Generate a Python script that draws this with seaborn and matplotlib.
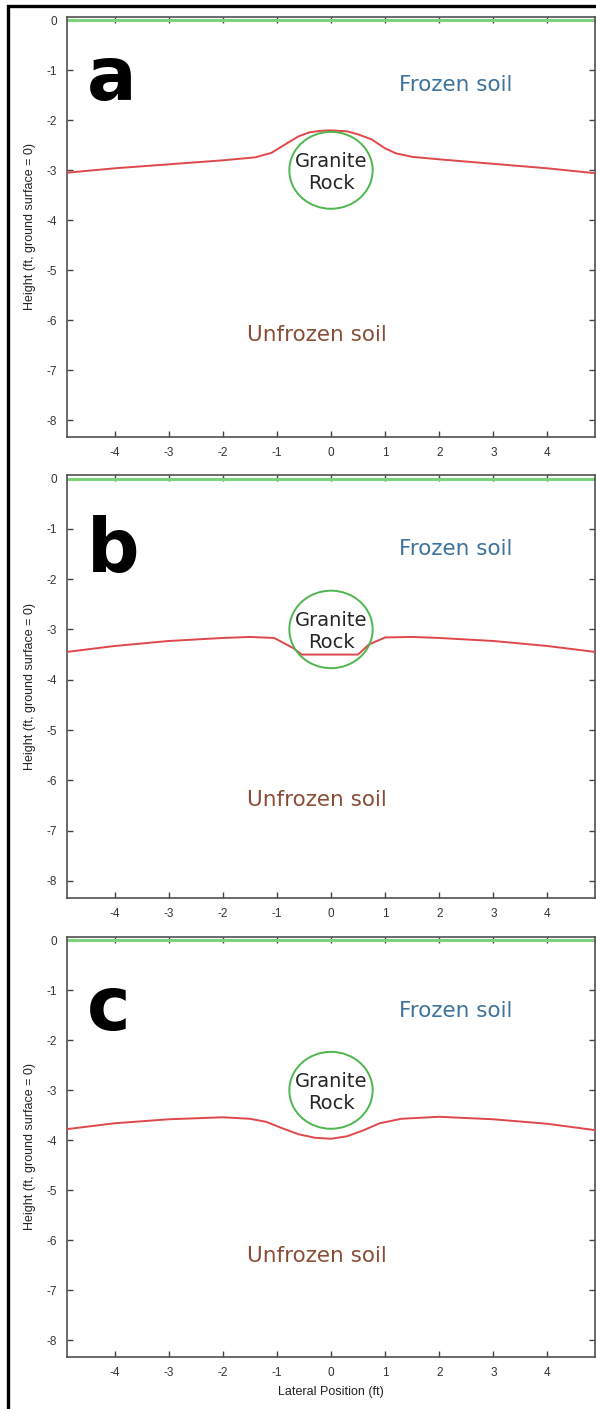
import matplotlib
matplotlib.use("Agg")
import matplotlib.pyplot as plt
from matplotlib.patches import Circle, Rectangle
import seaborn as sns
import pandas as pd

# Axis ticks
x_ticks = [-4, -3, -2, -1, 0, 1, 2, 3, 4]
y_ticks = [0, -1, -2, -3, -4, -5, -6, -7, -8]

# Freezing-front profiles (lateral position ft, height ft)
front_x_a = [-4.9, -4.0, -3.0, -2.0, -1.4, -1.1, -0.8, -0.6, -0.4, -0.2, 0.0,
             0.3, 0.5, 0.75, 1.0, 1.2, 1.5, 2.0, 3.0, 4.0, 4.9]
front_y_a = [-3.05, -2.96, -2.88, -2.80, -2.74, -2.65, -2.45, -2.32, -2.24, -2.21, -2.20,
             -2.22, -2.28, -2.38, -2.56, -2.66, -2.73, -2.78, -2.87, -2.96, -3.06]

front_x_b = [-4.9, -4.0, -3.0, -2.0, -1.5, -1.05, -0.7, -0.54, 0.0, 0.5, 0.7,
             1.0, 1.5, 2.0, 3.0, 4.0, 4.9]
front_y_b = [-3.45, -3.33, -3.23, -3.17, -3.15, -3.17, -3.37, -3.50, -3.50, -3.50, -3.30,
             -3.16, -3.15, -3.17, -3.23, -3.33, -3.45]

front_x_c = [-4.9, -4.0, -3.0, -2.0, -1.5, -1.2, -0.9, -0.6, -0.3, 0.0, 0.3,
             0.6, 0.9, 1.3, 2.0, 3.0, 4.0, 4.9]
front_y_c = [-3.78, -3.66, -3.58, -3.54, -3.57, -3.63, -3.76, -3.88, -3.95, -3.97, -3.92,
             -3.80, -3.66, -3.57, -3.53, -3.58, -3.67, -3.80]

panel_labels = ["a", "b", "c"]
panel_label_y = [-1.6, -1.85, -1.8]
frozen_y = [-1.3, -1.4, -1.42]
unfrozen_y = [-6.3, -6.39, -6.31]

rock_center = (0.0, -3.0)
rock_radius = 0.77

sns.set_style("white")
plt.rcParams["font.family"] = ["Liberation Sans", "DejaVu Sans"]
plt.rcParams["axes.unicode_minus"] = False

W, H = 596, 1409
fig = plt.figure(figsize=(W / 100, H / 100), dpi=100)

# axes boxes in pixels: (top, bottom)
boxes = [(17, 437), (475, 898), (937, 1357)]
left_px, right_px = 67, 595

profiles = [(front_x_a, front_y_a), (front_x_b, front_y_b), (front_x_c, front_y_c)]

for i, ((top, bot), (fx, fy)) in enumerate(zip(boxes, profiles)):
    ax = fig.add_axes([left_px / W, 1 - bot / H, (right_px - left_px) / W, (bot - top) / H])
    ax.set_xlim(-4.88, 4.88)
    ax.set_ylim(-8.34, 0.07)

    # ground surface
    ax.axhline(0, color="#7cd37c", lw=2.2, zorder=2)

    # freezing front
    df = pd.DataFrame({"x": fx, "y": fy})
    sns.lineplot(data=df, x="x", y="y", sort=False, estimator=None,
                 color="#e0474c", lw=1.4, ax=ax, zorder=3)

    # granite rock
    ax.add_patch(Circle(rock_center, rock_radius, fill=False, ec="#4fb64f", lw=1.4, zorder=4))
    ax.text(0.0, -3.05, "Granite\nRock", ha="center", va="center", fontsize=14,
            family="DejaVu Sans", color="#262626", linespacing=1.2, zorder=5)

    ax.text(2.3, frozen_y[i], "Frozen soil", ha="center", va="center", fontsize=15.5,
            family="DejaVu Sans", color="#3f739c")
    ax.text(-0.26, unfrozen_y[i], "Unfrozen soil", ha="center", va="center", fontsize=15.5,
            family="DejaVu Sans", color="#8a4e36")

    ax.text(-4.52, panel_label_y[i], panel_labels[i], ha="left", va="baseline",
            fontsize=53, fontweight="heavy", family="DejaVu Sans", color="black")

    ax.set_xticks(x_ticks)
    ax.set_yticks(y_ticks)
    ax.set_xticklabels([str(v) for v in x_ticks])
    ax.set_yticklabels([str(v) for v in y_ticks])
    ax.tick_params(direction="in", length=4, width=1, color="#444444",
                   labelsize=8.5, labelcolor="#333333",
                   top=True, right=True, bottom=True, left=True, pad=7)
    for s in ax.spines.values():
        s.set_color("#505050")
        s.set_linewidth(1.2)
        s.set_visible(True)

    ax.set_ylabel("Height (ft, ground surface = 0)", fontsize=9, color="#222222", labelpad=8)
    if i == 2:
        ax.set_xlabel("Lateral Position (ft)", fontsize=9, color="#222222", labelpad=5)
    else:
        ax.set_xlabel("")

# outer frame
fig.add_artist(Rectangle((8 / W, -0.02), 1.2, 1.02 - 5.5 / H, transform=fig.transFigure,
                         fill=False, ec="black", lw=2.4, clip_on=False))

fig.savefig("out.png", dpi=100)
